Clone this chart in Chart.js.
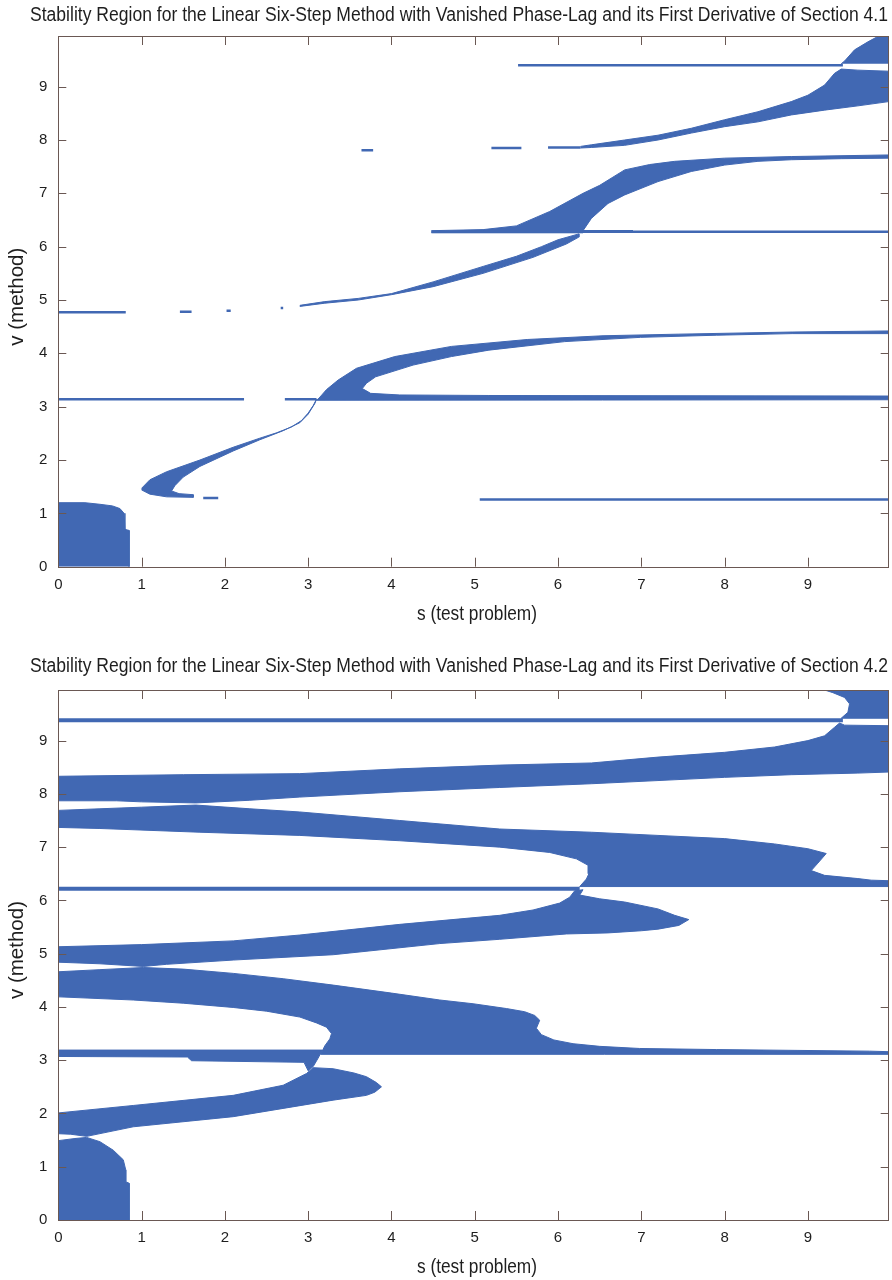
<!DOCTYPE html>
<html>
<head>
<meta charset="utf-8">
<title>Stability regions</title>
<script src="https://cdn.jsdelivr.net/npm/chart.js@4.4.1/dist/chart.umd.min.js"></script>
<style>
  html, body { margin: 0; padding: 0; background: #fff; }
  .panel { width: 892px; height: 640px; }
  canvas { display: block; }
</style>
</head>
<body>
<div class="panel"><canvas id="top" width="892" height="640"></canvas></div>
<div class="panel"><canvas id="bottom" width="892" height="640"></canvas></div>
<script>
// axis ticks
const sTicks = [0, 1, 2, 3, 4, 5, 6, 7, 8, 9];
const vTicks = [0, 1, 2, 3, 4, 5, 6, 7, 8, 9];
const sRange = [0, 9.97];
const vRange = [0, 9.95];

const titleTop = 'Stability Region for the Linear Six-Step Method with Vanished Phase-Lag and its First Derivative of Section 4.1';
const titleBottom = 'Stability Region for the Linear Six-Step Method with Vanished Phase-Lag and its First Derivative of Section 4.2';
const xTitle = 's (test problem)';
const yTitle = 'v (method)';

// ---- Section 4.1: stable regions, outlines as [s, v]
const topBlock = [[0, 0], [0, 1.2], [0.32, 1.2], [0.5, 1.17], [0.65, 1.14], [0.74, 1.09], [0.79, 1.0],
  [0.8, 0.7], [0.85, 0.68], [0.85, 0]];
const topHorn = [[1.0, 1.47], [1.1, 1.63], [1.3, 1.78], [1.7, 2.0], [2.1, 2.24], [2.42, 2.41], [2.62, 2.51],
  [2.8, 2.62], [2.92, 2.74], [3.0, 2.88], [3.06, 3.02], [3.1, 3.14], [3.08, 3.06], [3.0, 2.86], [2.9, 2.7],
  [2.7, 2.55], [2.42, 2.38], [2.1, 2.17], [1.7, 1.88], [1.5, 1.68], [1.4, 1.52], [1.36, 1.42], [1.45, 1.37],
  [1.62, 1.35], [1.62, 1.3], [1.3, 1.31], [1.1, 1.36], [1.0, 1.44]];
const topPiRegion = [[3.1, 3.12], [3.13, 3.16], [3.22, 3.32], [3.36, 3.5], [3.58, 3.72], [4.04, 3.94],
  [4.72, 4.13], [5.63, 4.26], [6.54, 4.33], [7.45, 4.36], [8.81, 4.4], [9.97, 4.42], [9.97, 4.37], [8.81, 4.37],
  [7.9, 4.34], [6.99, 4.3], [6.08, 4.22], [5.17, 4.06], [4.72, 3.94], [4.26, 3.78], [3.81, 3.56], [3.7, 3.44],
  [3.65, 3.34], [3.75, 3.25], [4.1, 3.22], [5.17, 3.21], [9.97, 3.2], [9.97, 3.13], [3.1, 3.12]];
const topMidBand = [[2.9, 4.9], [3.2, 4.97], [3.6, 5.03], [4.0, 5.12], [4.5, 5.34], [5.1, 5.63], [5.5, 5.82],
  [5.8, 6.0], [6.0, 6.13], [6.25, 6.24], [6.25, 6.18], [6.1, 6.05], [5.7, 5.8], [5.1, 5.5], [4.5, 5.25],
  [4.0, 5.1], [3.6, 5.0], [3.2, 4.94], [2.9, 4.88]];
const topSixBand = [[4.48, 6.3], [5.1, 6.32], [5.5, 6.39], [5.9, 6.66], [6.3, 7.0], [6.5, 7.15], [6.8, 7.44],
  [7.1, 7.54], [7.4, 7.6], [8.0, 7.66], [8.8, 7.69], [9.97, 7.72], [9.97, 7.66], [9.4, 7.65], [8.8, 7.63],
  [8.4, 7.6], [8.0, 7.53], [7.6, 7.41], [7.2, 7.22], [6.8, 6.97], [6.6, 6.81], [6.4, 6.53], [6.3, 6.3],
  [6.3, 6.26], [4.48, 6.26]];
const topEightBand = [[6.27, 7.88], [6.4, 7.91], [6.8, 8.0], [7.2, 8.09], [7.6, 8.22], [8.0, 8.38], [8.4, 8.53],
  [8.8, 8.72], [9.0, 8.84], [9.2, 9.03], [9.32, 9.25], [9.4, 9.33], [9.6, 9.31], [9.97, 9.29], [9.97, 8.72],
  [9.6, 8.64], [9.2, 8.56], [8.8, 8.47], [8.4, 8.34], [8.0, 8.25], [7.6, 8.13], [7.2, 8.0], [6.8, 7.9],
  [6.4, 7.86], [6.27, 7.85]];
const topCorner = [[9.4, 9.43], [9.44, 9.48], [9.56, 9.69], [9.72, 9.84], [9.85, 9.95], [9.97, 9.95], [9.97, 9.43]];
// thin stable strips: [s from, s to, v]
const topStrips = [[0, 0.81, 4.77], [1.46, 1.6, 4.78], [2.02, 2.07, 4.8], [2.67, 2.7, 4.85],
  [0, 2.23, 3.14], [2.72, 3.1, 3.14], [1.74, 1.92, 1.29], [5.06, 9.97, 1.26], [4.48, 9.97, 6.28],
  [6.3, 6.9, 6.29], [5.52, 9.42, 9.4], [3.64, 3.78, 7.81], [5.2, 5.56, 7.85], [5.88, 6.27, 7.86]];

// ---- Section 4.2
const botBlock = [[0, 0], [0, 1.49], [0.2, 1.53], [0.34, 1.55], [0.5, 1.47], [0.66, 1.31], [0.78, 1.13],
  [0.81, 0.94], [0.81, 0.72], [0.85, 0.69], [0.85, 0]];
const botBandE = [[0, 2.01], [0.9, 2.15], [2.1, 2.34], [2.7, 2.53], [2.98, 2.75], [3.06, 2.86], [3.3, 2.84],
  [3.55, 2.76], [3.7, 2.69], [3.82, 2.58], [3.88, 2.5], [3.8, 2.4], [3.7, 2.34], [3.3, 2.25], [2.1, 1.94],
  [0.9, 1.75], [0.34, 1.57], [0.15, 1.61], [0, 1.62]];
const botPiBand = [[0, 3.19], [3.17, 3.19], [3.12, 3.04], [3.06, 2.88], [3.0, 2.8], [2.95, 2.96], [1.6, 2.99],
  [1.55, 3.06], [0, 3.07]];
const botRegionD = [[0, 4.66], [0.5, 4.7], [1.02, 4.74], [1.5, 4.71], [2.1, 4.63], [2.7, 4.53], [3.3, 4.41],
  [4.0, 4.26], [4.58, 4.13], [4.98, 4.06], [5.38, 3.97], [5.6, 3.91], [5.72, 3.84], [5.78, 3.75], [5.74, 3.6],
  [5.8, 3.48], [5.95, 3.38], [6.18, 3.31], [6.5, 3.26], [6.98, 3.22], [7.9, 3.2], [9.74, 3.17], [9.97, 3.16],
  [9.97, 3.11], [3.15, 3.11], [3.2, 3.27], [3.26, 3.4], [3.28, 3.5], [3.22, 3.62], [3.1, 3.7], [2.9, 3.81],
  [2.5, 3.92], [2.1, 3.99], [1.5, 4.07], [0.9, 4.13], [0, 4.19]];
const botBandC = [[0, 5.13], [1.0, 5.17], [2.1, 5.24], [2.9, 5.35], [4.1, 5.55], [5.3, 5.72], [5.7, 5.82],
  [6.02, 5.95], [6.14, 6.06], [6.2, 6.18], [6.3, 6.2], [6.26, 6.1], [6.5, 6.03], [6.8, 5.97], [7.2, 5.84],
  [7.4, 5.72], [7.57, 5.64], [7.45, 5.53], [7.2, 5.46], [7.0, 5.43], [6.6, 5.39], [6.1, 5.37], [5.3, 5.27],
  [4.58, 5.19], [3.3, 4.98], [2.1, 4.88], [1.3, 4.8], [1.02, 4.76], [0.5, 4.81], [0, 4.84]];
const botRegionB = [[0, 7.69], [0.5, 7.72], [1.0, 7.75], [1.65, 7.79], [2.3, 7.72], [2.9, 7.66], [4.1, 7.5],
  [5.3, 7.34], [6.4, 7.28], [7.2, 7.22], [8.0, 7.16], [8.6, 7.06], [9.0, 6.97], [9.22, 6.88], [9.12, 6.7],
  [9.04, 6.56], [9.2, 6.47], [9.6, 6.41], [9.76, 6.38], [9.97, 6.37], [9.97, 6.26], [6.26, 6.26], [6.34, 6.4],
  [6.37, 6.5], [6.36, 6.66], [6.22, 6.78], [5.9, 6.9], [5.3, 7.0], [4.1, 7.12], [2.9, 7.22], [1.7, 7.28],
  [0.5, 7.35], [0, 7.37]];
const botRegionA = [[0, 8.33], [1.5, 8.36], [2.9, 8.38], [4.1, 8.47], [5.3, 8.54], [6.4, 8.58], [7.2, 8.69],
  [8.0, 8.78], [8.6, 8.88], [9.0, 9.0], [9.2, 9.09], [9.32, 9.25], [9.38, 9.33], [9.44, 9.29], [9.97, 9.28],
  [9.97, 8.41], [9.6, 8.39], [8.8, 8.36], [8.0, 8.31], [7.2, 8.25], [6.4, 8.19], [5.3, 8.12], [4.1, 8.04],
  [2.9, 7.94], [2.3, 7.88], [1.65, 7.83], [1.0, 7.85], [0.7, 7.87], [0, 7.87]];
const botCorner = [[9.2, 9.95], [9.3, 9.9], [9.44, 9.81], [9.5, 9.69], [9.48, 9.53], [9.4, 9.42], [9.97, 9.42],
  [9.97, 9.95]];
const botStrips = [[0, 9.42, 9.38], [0, 6.26, 6.22]];

const blue = '#4168b3';
const axisColor = '#6a5853';
const textColor = '#1e1e1e';

function hasFont(name) {
  const c = document.createElement('canvas').getContext('2d');
  const probe = 'abcdefghijklm 0123456789 ABCDEFG';
  c.font = '20px monospace';
  const w1 = c.measureText(probe).width;
  c.font = '20px "' + name + '", monospace';
  return c.measureText(probe).width !== w1;
}
const narrow = hasFont('Liberation Sans Narrow');
const family = narrow ? '"Liberation Sans Narrow", "Liberation Sans", Arial' : '"Liberation Sans", Arial, sans-serif';
const tickFont = { family, size: narrow ? 16 : 15 };

// text squeezed to a given width (the original uses a narrow face)
function narrowText(ctx, text, x, y, width, angle) {
  ctx.save();
  ctx.font = '20px ' + family;
  const k = width / ctx.measureText(text).width;
  ctx.translate(x, y);
  if (angle) ctx.rotate(angle);
  ctx.scale(k, 1);
  ctx.fillStyle = textColor;
  ctx.textAlign = 'center';
  ctx.textBaseline = 'alphabetic';
  ctx.fillText(text, 0, 0);
  ctx.restore();
}

// frame with inward ticks on all sides, plus the titles
const framePlugin = {
  id: 'frame',
  afterDraw(chart, args, opts) {
    const { ctx, chartArea: a, scales: { x, y } } = chart;
    ctx.save();
    ctx.strokeStyle = axisColor;
    ctx.lineWidth = 1;
    ctx.strokeRect(Math.round(a.left) + 0.5, Math.round(a.top) + 0.5,
      Math.round(a.right - a.left), Math.round(a.bottom - a.top));
    ctx.beginPath();
    sTicks.forEach(v => {
      const px = Math.round(x.getPixelForValue(v)) + 0.5;
      ctx.moveTo(px, a.bottom); ctx.lineTo(px, a.bottom - 9);
      ctx.moveTo(px, a.top); ctx.lineTo(px, a.top + 9);
    });
    vTicks.forEach(v => {
      const py = Math.round(y.getPixelForValue(v)) + 0.5;
      ctx.moveTo(a.left, py); ctx.lineTo(a.left + 8, py);
      ctx.moveTo(a.right, py); ctx.lineTo(a.right - 8, py);
    });
    ctx.stroke();
    ctx.restore();

    narrowText(ctx, opts.title, 459, opts.titleY, 858, 0);
    narrowText(ctx, xTitle, 477, a.bottom + 53, 120, 0);
    narrowText(ctx, yTitle, 23, a.bottom - 270, 98, -Math.PI / 2);
  }
};

function buildChart(id, cfg) {
  const datasets = [];
  cfg.regions.forEach(r => {
    datasets.push({
      data: r.map(([x, y]) => ({ x, y })),
      fill: 'shape',
      backgroundColor: blue,
      borderColor: blue,
      borderWidth: 1,
      pointRadius: 0,
      tension: 0
    });
  });
  cfg.strips.forEach(([s0, s1, v]) => {
    datasets.push({
      data: [{ x: s0, y: v }, { x: s1, y: v }],
      fill: false,
      borderColor: blue,
      borderWidth: cfg.stripWidth,
      borderCapStyle: 'butt',
      pointRadius: 0
    });
  });

  return new Chart(document.getElementById(id), {
    type: 'line',
    data: { datasets },
    options: {
      responsive: false,
      animation: false,
      events: [],
      layout: { padding: cfg.padding },
      plugins: {
        legend: { display: false },
        tooltip: { enabled: false },
        frame: { title: cfg.title, titleY: cfg.titleY }
      },
      scales: {
        x: {
          type: 'linear',
          min: sRange[0],
          max: sRange[1],
          afterBuildTicks: s => { s.ticks = sTicks.map(value => ({ value })); },
          afterFit: s => { s.height = cfg.xAxisHeight; },
          grid: { display: false, drawTicks: false },
          border: { display: false },
          ticks: { padding: 9, color: textColor, font: tickFont, maxRotation: 0 }
        },
        y: {
          type: 'linear',
          min: vRange[0],
          max: vRange[1],
          afterBuildTicks: s => { s.ticks = vTicks.map(value => ({ value })); },
          afterFit: s => { s.width = 58.3; },
          grid: { display: false, drawTicks: false },
          border: { display: false },
          ticks: { padding: 11, color: textColor, font: tickFont }
        }
      }
    },
    plugins: [framePlugin]
  });
}

buildChart('top', {
  title: titleTop,
  titleY: 21,
  regions: [topBlock, topHorn, topPiRegion, topMidBand, topSixBand, topEightBand, topCorner],
  strips: topStrips,
  stripWidth: 2.5,
  padding: { top: 36, right: 3.3, bottom: 43.3, left: 0 },
  xAxisHeight: 30
});

buildChart('bottom', {
  title: titleBottom,
  titleY: 32,
  regions: [botBlock, botBandE, botPiBand, botRegionD, botBandC, botRegionB, botRegionA, botCorner],
  strips: botStrips,
  stripWidth: 4,
  padding: { top: 50, right: 3.3, bottom: 30, left: 0 },
  xAxisHeight: 30
});
</script>
</body>
</html>
